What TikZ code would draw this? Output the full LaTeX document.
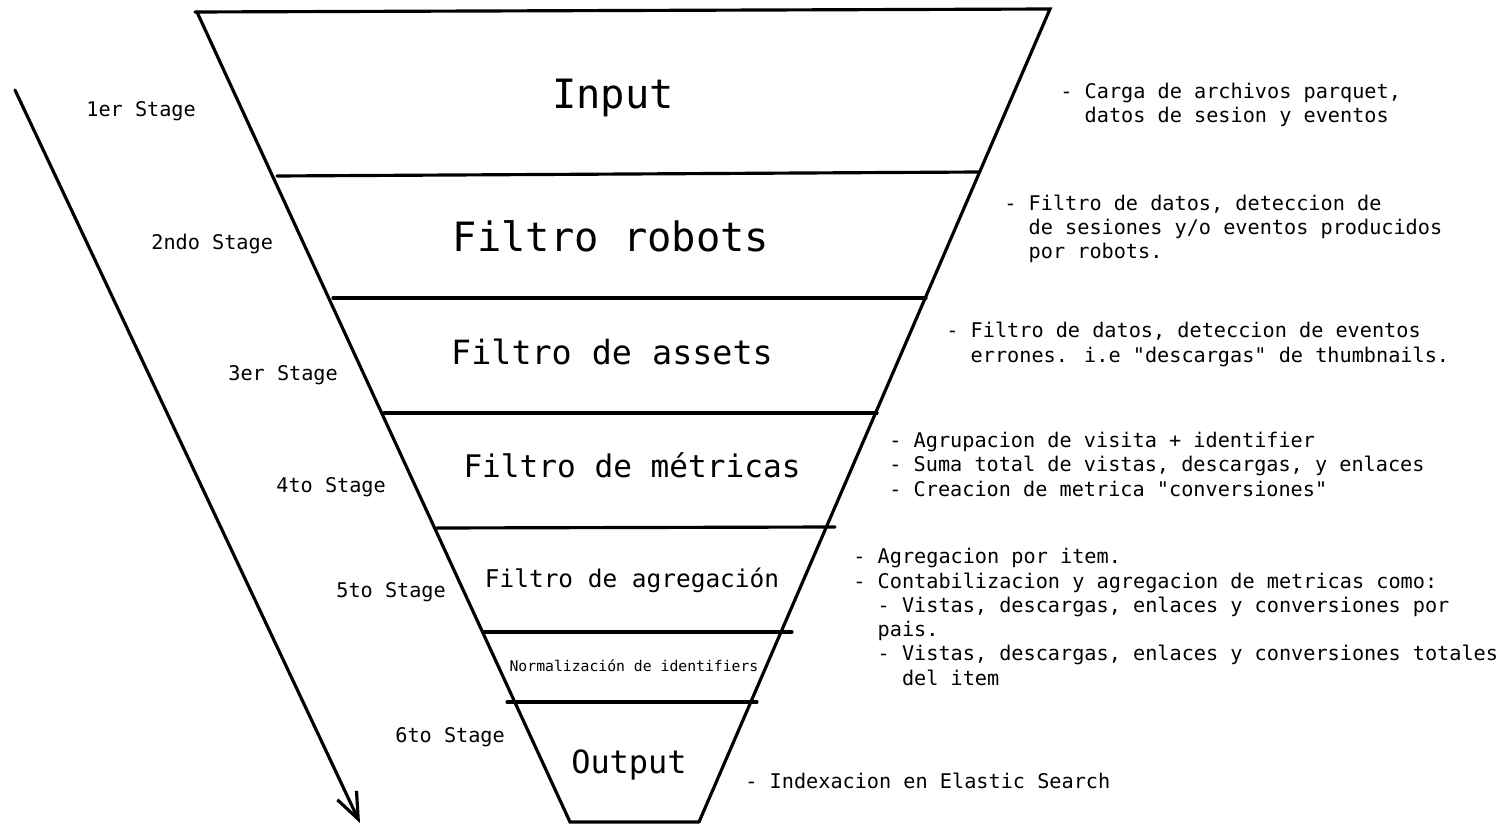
\documentclass[tikz,border=0pt]{standalone}
\usepackage{fontspec}
\setmainfont{DejaVu Sans Mono}[Ligatures=TeXOff]
\usetikzlibrary{arrows.meta}

\begin{document}
\begin{tikzpicture}[x=0.02cm, y=-0.02cm,
		edge/.style={line width=1.8pt, line cap=round},
		title/.style={anchor=base, inner sep=0pt},
		stagelbl/.style={anchor=base west, inner sep=0pt, font=\fontsize{11.5}{13.8}\selectfont},
		note/.style={anchor=base west, inner sep=0pt, align=left, font=\fontsize{11.5}{13.8}\selectfont}]

			\useasboundingbox (0,0) rectangle (1502,824);

			% Funnel
			\coordinate (tl) at (197,12);
			\coordinate (tr) at (1050,9);
			\coordinate (bl) at (570,822);
			\coordinate (br) at (699,822);
			\draw[edge] (195,12) -- (tr) -- (br);
			\draw[edge] (tl) -- (bl) -- (br);

			% Stage dividers
			\draw[edge] (277,176) -- (979,172);
			\draw[edge] (333,298) -- (926,298);
			\draw[edge] (384,413) -- (877,413);
			\draw[edge] (437,528) -- (835,527);
			\draw[edge] (483,632) -- (792,632);
			\draw[edge] (507,702) -- (757,702);

			% Stage names
			\node[title, font=\fontsize{23}{27}\selectfont] (input) at (613,109) {Input};
			\node[title, font=\fontsize{23}{27}\selectfont] (robots) at (611,252) {Filtro robots};
			\node[title, font=\fontsize{19}{23}\selectfont] (assets) at (612,365) {Filtro de assets};
			\node[title, font=\fontsize{17.7}{21}\selectfont] (metricas) at (632,478) {Filtro de métricas};
			\node[title, font=\fontsize{13.9}{17}\selectfont] (agregacion) at (632,587) {Filtro de agregación};
			\node[title, font=\fontsize{8.4}{10}\selectfont] (normal) at (634,671) {Normalización de identifiers};
			\node[title, font=\fontsize{18.2}{22}\selectfont] (output) at (629,773) {Output};

			% Stage counter
			\node[stagelbl] (s1) at (86,117) {1er Stage};
			\node[stagelbl] (s2) at (151,250) {2ndo Stage};
			\node[stagelbl] (s3) at (228,380) {3er Stage};
			\node[stagelbl] (s4) at (276,492) {4to Stage};
			\node[stagelbl] (s5) at (336,597) {5to Stage};
			\node[stagelbl] (s6) at (395,742) {6to Stage};

			% Flow arrow
			\coordinate (flowstart) at (15,90);
			\coordinate (flowend) at (360,823);
			\draw[edge, -{Straight Barb[length=15pt, width=12pt, line width=1.8pt]}] (flowstart) -- (flowend);

			% Descriptions (anchored at the last line)
			\node[note] (dinput) at (1060,123) {- Carga de archivos parquet,\\\phantom{- }datos de sesion y eventos};
			\node[note] (drobots) at (1004,259) {- Filtro de datos, deteccion de\\\phantom{- }de sesiones y/o eventos producidos\\\phantom{- }por robots.};
			\node[note] (dassets) at (946,362) {- Filtro de datos, deteccion de eventos\\\phantom{- }errones. i.e "descargas" de thumbnails.};
			\node[note] (dmetricas) at (889,496) {- Agrupacion de visita + identifier\\- Suma total de vistas, descargas, y enlaces\\- Creacion de metrica "conversiones"};
			\node[note] (dagregacion) at (853,685) {- Agregacion por item.\\- Contabilizacion y agregacion de metricas como:\\\phantom{- }- Vistas, descargas, enlaces y conversiones por\\\phantom{- }pais.\\\phantom{- }- Vistas, descargas, enlaces y conversiones totales\\\phantom{- - }del item};
			\node[note] (doutput) at (745,788) {- Indexacion en Elastic Search};
		\end{tikzpicture}
\end{document}
